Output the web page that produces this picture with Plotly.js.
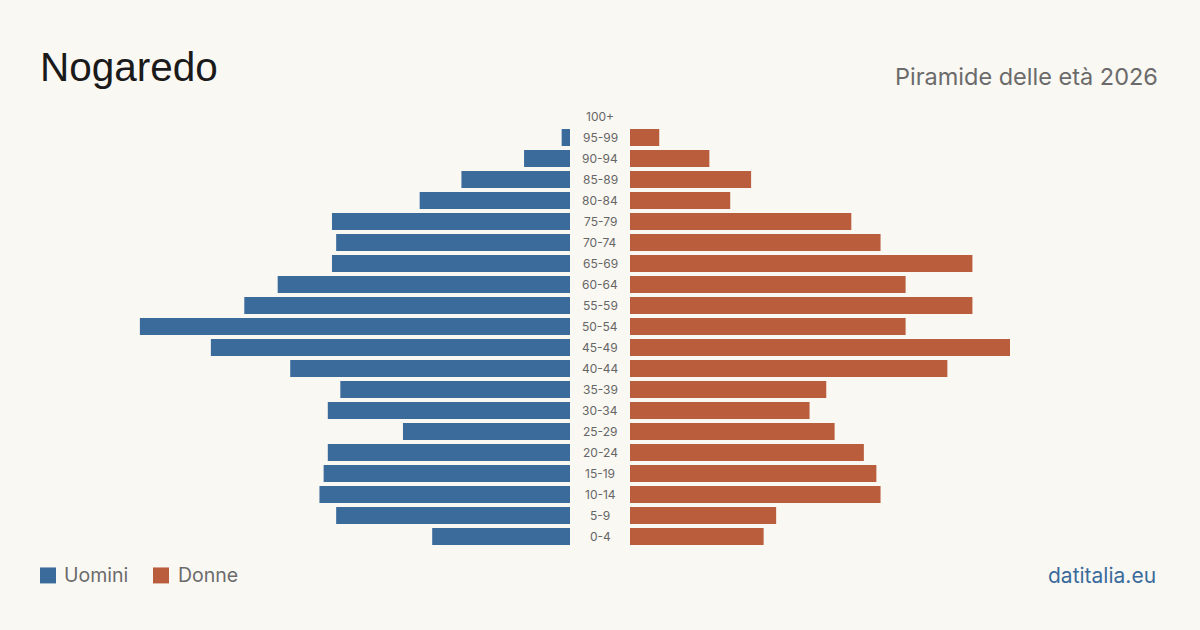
<!DOCTYPE html>
<html>
<head>
<meta charset="utf-8">
<script src="https://cdn.plot.ly/plotly-3.0.1.min.js"></script>
<style>
html,body{margin:0;padding:0;background:#faf8f3;}
#chart{width:1200px;height:630px;}
</style>
</head>
<body>
<div id="chart"></div>
<script>
// Age groups from youngest to oldest
const ageGroups = ["0-4","5-9","10-14","15-19","20-24","25-29","30-34","35-39","40-44","45-49","50-54","55-59","60-64","65-69","70-74","75-79","80-84","85-89","90-94","95-99","100+"];
const uomini = [33,56,60,59,58,40,58,55,67,86,103,78,70,57,56,57,36,26,11,2,0];
const donne  = [32,35,60,59,56,49,43,47,76,91,66,82,66,82,60,53,24,29,19,7,0];

const blue = "#3b6b9b";
const orange = "#b95d3d";
const R = 136.5;

const TOP = 105.5, BOT = 547.5;
const px = p => p / 1200;
const py = p => (BOT - p) / (BOT - TOP);

const traces = [
  {type:"bar", orientation:"h", y:ageGroups, x:uomini, xaxis:"x", yaxis:"y",
   marker:{color:blue}, hoverinfo:"x+y", name:"Uomini", showlegend:false},
  {type:"bar", orientation:"h", y:ageGroups, x:donne, xaxis:"x2", yaxis:"y",
   marker:{color:orange}, hoverinfo:"x+y", name:"Donne", showlegend:false}
];

const sans = "Inter, Liberation Sans, sans-serif";
const annotations = ageGroups.map(g => ({
  xref:"paper", yref:"y", x:0.5, y:g, text:g, showarrow:false,
  font:{family:sans, size:12, color:"#666"},
  xanchor:"center", yanchor:"middle"
}));

annotations.push(
  {xref:"paper", yref:"paper", x:px(38), y:py(66), text:"Nogaredo", showarrow:false,
   xanchor:"left", yanchor:"middle", font:{family:"Liberation Sans, Arial, sans-serif", size:40.5, color:"#1a1a1a"}},
  {xref:"paper", yref:"paper", x:px(1160), y:py(76), text:"Piramide delle età 2026", showarrow:false,
   xanchor:"right", yanchor:"middle", font:{family:sans, size:23.5, color:"#6b6b6b"}},
  {xref:"paper", yref:"paper", x:px(62), y:py(576), text:"Uomini", showarrow:false,
   xanchor:"left", yanchor:"middle", font:{family:sans, size:19.5, color:"#6b6b6b"}},
  {xref:"paper", yref:"paper", x:px(176), y:py(576), text:"Donne", showarrow:false,
   xanchor:"left", yanchor:"middle", font:{family:sans, size:19.5, color:"#6b6b6b"}},
  {xref:"paper", yref:"paper", x:px(1158), y:py(576), text:"datitalia.eu", showarrow:false,
   xanchor:"right", yanchor:"middle", font:{family:sans, size:21, color:"#3b6b9b"}}
);

const shapes = [
  {type:"rect", xref:"paper", yref:"paper", x0:px(40), x1:px(56), y0:py(584), y1:py(568), fillcolor:blue, line:{width:0}},
  {type:"rect", xref:"paper", yref:"paper", x0:px(153), x1:px(169), y0:py(584), y1:py(568), fillcolor:orange, line:{width:0}}
];

const layout = {
  width:1200, height:630,
  paper_bgcolor:"#faf8f3", plot_bgcolor:"#faf8f3",
  margin:{l:0, r:0, t:TOP, b:630-BOT},
  bargap:0.19,
  xaxis:{domain:[0, 570/1200], range:[R, 0], showgrid:false, zeroline:false, showticklabels:false, fixedrange:true},
  xaxis2:{domain:[630/1200, 1], range:[0, R], showgrid:false, zeroline:false, showticklabels:false, fixedrange:true},
  yaxis:{type:"category", categoryorder:"array", categoryarray:ageGroups, range:[-0.5, ageGroups.length-0.5],
         showticklabels:false, showgrid:false, zeroline:false, fixedrange:true},
  annotations: annotations,
  shapes: shapes,
  showlegend:false
};

Plotly.newPlot("chart", traces, layout, {displayModeBar:false, staticPlot:true});
</script>
</body>
</html>
